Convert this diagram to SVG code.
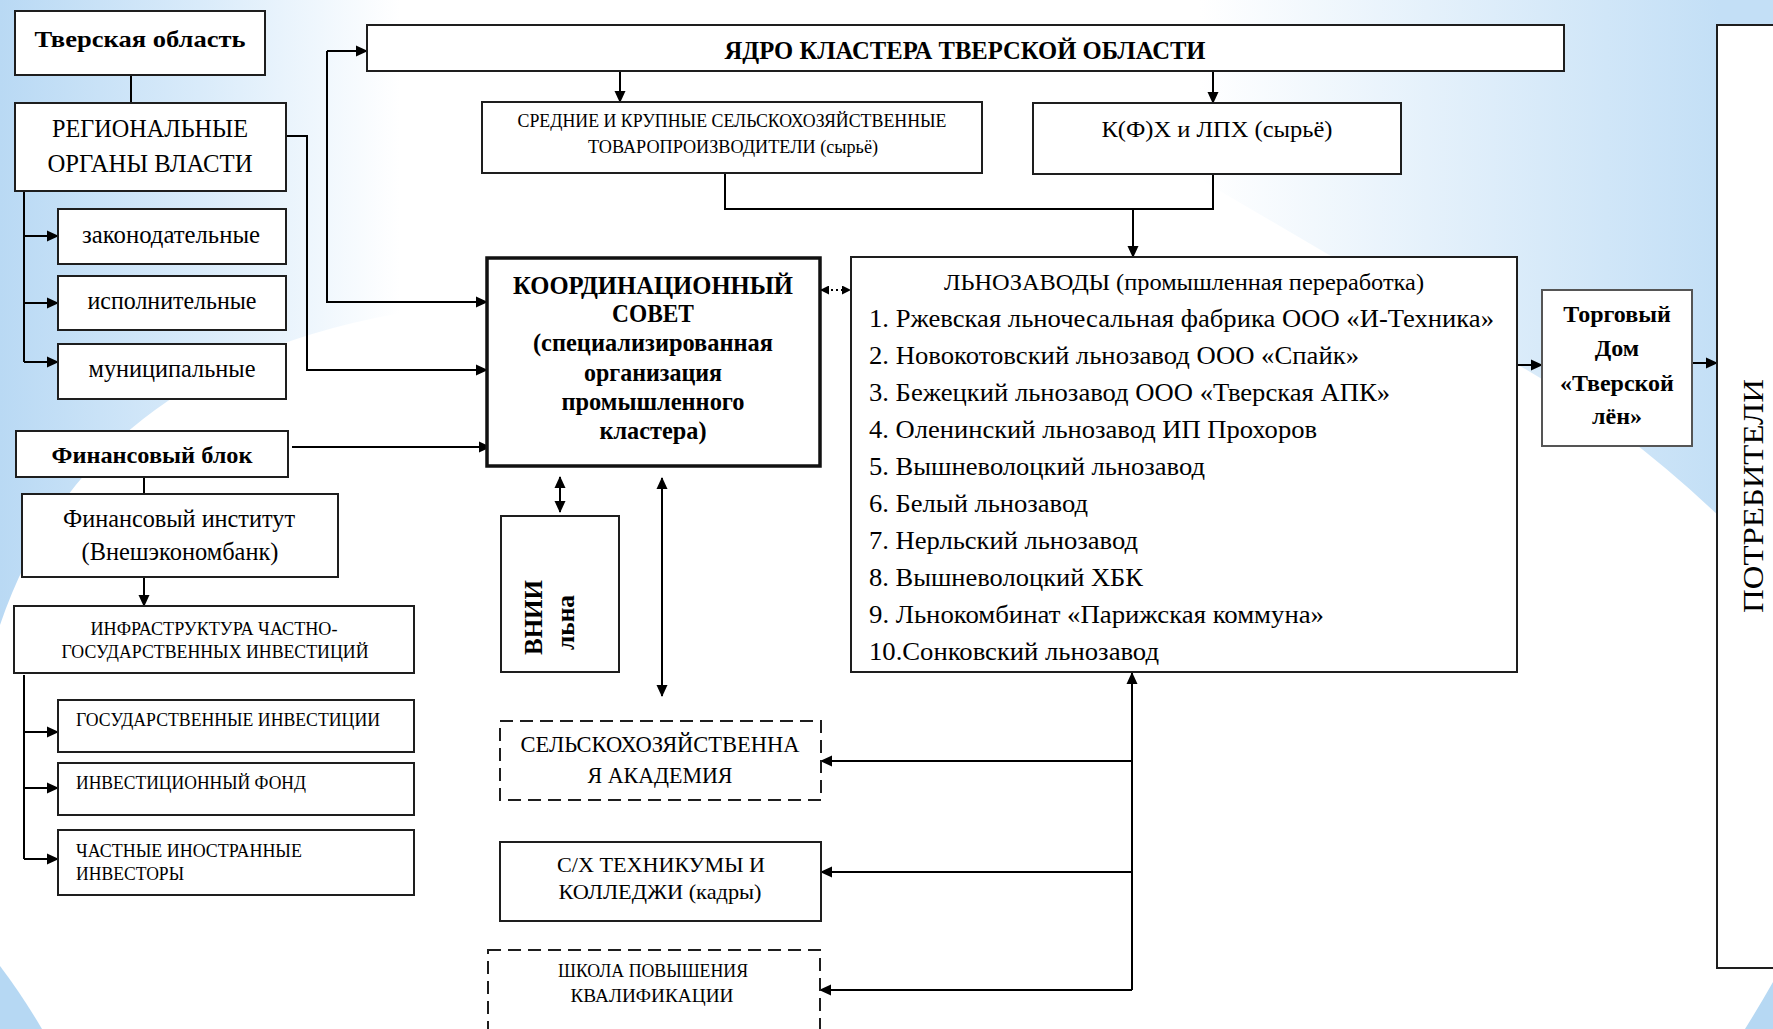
<svg xmlns="http://www.w3.org/2000/svg" width="1773" height="1029" viewBox="0 0 1773 1029">
<style>
.bx{fill:#fff;stroke:#1e1e1e;stroke-width:2}
.bxd{fill:#fff;stroke:#1e1e1e;stroke-width:2;stroke-dasharray:13 7}
.bxc{fill:#fff;stroke:#111;stroke-width:3.5}
.bxg{fill:#fff;stroke:#555;stroke-width:2}
text{font-family:'Liberation Serif','DejaVu Serif',serif;fill:#000}
.b{font-weight:bold}
.m{text-anchor:middle}
.c{fill:none;stroke:#000;stroke-width:2}
.a{marker-end:url(#ah)}
.a2{marker-end:url(#ah);marker-start:url(#ah)}
</style>
<defs>
<linearGradient id="gL" gradientUnits="userSpaceOnUse" x1="0" y1="0" x2="400" y2="0"><stop offset="0" stop-color="#b9d9f4"/><stop offset="0.5" stop-color="#d9ebfa"/><stop offset="1" stop-color="#ffffff"/></linearGradient>
<linearGradient id="gR" gradientUnits="userSpaceOnUse" x1="1200" y1="0" x2="1720" y2="0"><stop offset="0" stop-color="#ffffff"/><stop offset="1" stop-color="#c3dff6"/></linearGradient>
<marker id="ah" viewBox="0 0 12 12" markerWidth="12" markerHeight="12" markerUnits="userSpaceOnUse" refX="11" refY="6" orient="auto-start-reverse"><path d="M0,0.5 L12,6 L0,11.5 z" fill="#000"/></marker>
<marker id="ahs" viewBox="0 0 9 9" markerWidth="9" markerHeight="9" markerUnits="userSpaceOnUse" refX="8" refY="4.5" orient="auto-start-reverse"><path d="M0,0 L9,4.5 L0,9 z" fill="#000"/></marker>
</defs>

<g id="background">
<rect x="0" y="0" width="1773" height="1029" fill="#fff"/>
<path d="M0,0 L420,0 L420,310 Q90,360 0,625 Z" fill="url(#gL)"/>
<path d="M1150,0 H1773 V570 Q1640,430 1500,355 L1150,150 Z" fill="url(#gR)"/>
<path d="M0,966 Q22,995 42,1029 H0 Z" fill="#b6d8f3"/>
<path d="M1773,982 Q1760,1005 1745,1029 H1773 Z" fill="#b6d8f3"/>
</g>

<g id="connectors">
<path class="c" d="M131,75 V103"/>
<path class="c" d="M24,191 V362"/>
<path class="c a" d="M24,236 H58"/>
<path class="c a" d="M24,303 H58"/>
<path class="c a" d="M24,362 H58"/>
<path class="c a" d="M286,136 H307 V370 H487"/>
<path class="c a" d="M327,51 H367"/>
<path class="c a" d="M327,51 V302 H487"/>
<path class="c a" d="M620,71 V102"/>
<path class="c a" d="M1213,71 V103"/>
<path class="c" d="M725,173 V209 H1213 V174"/>
<path class="c a" d="M1133,209 V257"/>
<path fill="none" stroke="#000" stroke-width="2" stroke-dasharray="2 3" marker-start="url(#ahs)" marker-end="url(#ahs)" d="M821,290 H850"/>
<path class="c a" d="M292,447 H490"/>
<path class="c" d="M144,477 V494"/>
<path class="c a" d="M144,577 V606"/>
<path class="c" d="M24,675 V859"/>
<path class="c a" d="M24,732 H58"/>
<path class="c a" d="M24,788 H58"/>
<path class="c a" d="M24,859 H58"/>
<path class="c a2" d="M560,477 V512"/>
<path class="c a2" d="M662,478 V696"/>
<path class="c a" d="M1132,990 V673"/>
<path class="c a" d="M1132,761 H821"/>
<path class="c a" d="M1132,872 H821"/>
<path class="c a" d="M1132,990 H820"/>
<path class="c a" d="M1518,365 H1542"/>
<path class="c a" d="M1693,363 H1717"/>
</g>

<g id="n-tver">
<rect class="bx" x="15" y="11" width="250" height="64"/>
<text class="b m" x="140" y="47" font-size="24" textLength="211" lengthAdjust="spacingAndGlyphs">Тверская область</text>
</g>
<g id="n-reg">
<rect class="bx" x="15" y="103" width="271" height="88"/>
<text class="m" x="150" y="137" font-size="25" textLength="196" lengthAdjust="spacingAndGlyphs">РЕГИОНАЛЬНЫЕ</text>
<text class="m" x="150" y="172" font-size="25" textLength="205" lengthAdjust="spacingAndGlyphs">ОРГАНЫ ВЛАСТИ</text>
</g>
<g id="n-zak">
<rect class="bx" x="58" y="209" width="228" height="55"/>
<text class="m" x="171" y="243" font-size="25" textLength="178" lengthAdjust="spacingAndGlyphs">законодательные</text>
</g>
<g id="n-isp">
<rect class="bx" x="58" y="276" width="228" height="54"/>
<text class="m" x="172" y="309" font-size="25" textLength="169" lengthAdjust="spacingAndGlyphs">исполнительные</text>
</g>
<g id="n-mun">
<rect class="bx" x="58" y="344" width="228" height="55"/>
<text class="m" x="172" y="377" font-size="25" textLength="167" lengthAdjust="spacingAndGlyphs">муниципальные</text>
</g>

<g id="n-core">
<rect class="bx" x="367" y="25" width="1197" height="46"/>
<text class="b m" x="965" y="59" font-size="26" textLength="481" lengthAdjust="spacingAndGlyphs">ЯДРО КЛАСТЕРА ТВЕРСКОЙ ОБЛАСТИ</text>
</g>
<g id="n-sred">
<rect class="bx" x="482" y="102" width="500" height="71"/>
<text class="m" x="732" y="127" font-size="18" textLength="429" lengthAdjust="spacingAndGlyphs">СРЕДНИЕ И КРУПНЫЕ СЕЛЬСКОХОЗЯЙСТВЕННЫЕ</text>
<text class="m" x="733" y="153" font-size="18" textLength="290" lengthAdjust="spacingAndGlyphs">ТОВАРОПРОИЗВОДИТЕЛИ (сырьё)</text>
</g>
<g id="n-kfh">
<rect class="bx" x="1033" y="103" width="368" height="71"/>
<text class="m" x="1217" y="137" font-size="24" textLength="231" lengthAdjust="spacingAndGlyphs">К(Ф)Х и ЛПХ (сырьё)</text>
</g>

<g id="n-coord">
<rect class="bxc" x="487" y="258" width="333" height="208"/>
<text class="b m" x="653" y="294" font-size="25" textLength="280" lengthAdjust="spacingAndGlyphs">КООРДИНАЦИОННЫЙ</text>
<text class="b m" x="653" y="322" font-size="25" textLength="82" lengthAdjust="spacingAndGlyphs">СОВЕТ</text>
<text class="b m" x="653" y="351" font-size="25" textLength="240" lengthAdjust="spacingAndGlyphs">(специализированная</text>
<text class="b m" x="653" y="381" font-size="25" textLength="138" lengthAdjust="spacingAndGlyphs">организация</text>
<text class="b m" x="653" y="410" font-size="25" textLength="183" lengthAdjust="spacingAndGlyphs">промышленного</text>
<text class="b m" x="653" y="439" font-size="25" textLength="107" lengthAdjust="spacingAndGlyphs">кластера)</text>
</g>

<g id="n-lno">
<rect class="bx" x="851" y="257" width="666" height="415"/>
<text class="m" x="1184" y="290" font-size="24" textLength="480" lengthAdjust="spacingAndGlyphs">ЛЬНОЗАВОДЫ (промышленная переработка)</text>
<text x="869" y="327" font-size="26" textLength="625" lengthAdjust="spacingAndGlyphs">1. Ржевская льночесальная фабрика ООО «И-Техника»</text>
<text x="869" y="364" font-size="26" textLength="490" lengthAdjust="spacingAndGlyphs">2. Новокотовский льнозавод ООО «Спайк»</text>
<text x="869" y="401" font-size="26" textLength="521" lengthAdjust="spacingAndGlyphs">3. Бежецкий льнозавод ООО «Тверская АПК»</text>
<text x="869" y="438" font-size="26" textLength="448" lengthAdjust="spacingAndGlyphs">4. Оленинский льнозавод ИП Прохоров</text>
<text x="869" y="475" font-size="26" textLength="336" lengthAdjust="spacingAndGlyphs">5. Вышневолоцкий льнозавод</text>
<text x="869" y="512" font-size="26" textLength="219" lengthAdjust="spacingAndGlyphs">6. Белый льнозавод</text>
<text x="869" y="549" font-size="26" textLength="269" lengthAdjust="spacingAndGlyphs">7. Нерльский льнозавод</text>
<text x="869" y="586" font-size="26" textLength="274" lengthAdjust="spacingAndGlyphs">8. Вышневолоцкий ХБК</text>
<text x="869" y="623" font-size="26" textLength="455" lengthAdjust="spacingAndGlyphs">9. Льнокомбинат «Парижская коммуна»</text>
<text x="869" y="660" font-size="26" textLength="290" lengthAdjust="spacingAndGlyphs">10.Сонковский льнозавод</text>
</g>

<g id="n-td">
<rect class="bxg" x="1542" y="290" width="150" height="156"/>
<text class="b m" x="1617" y="322" font-size="24">Торговый</text>
<text class="b m" x="1617" y="356" font-size="24">Дом</text>
<text class="b m" x="1617" y="391" font-size="24">«Тверской</text>
<text class="b m" x="1617" y="424" font-size="24">лён»</text>
</g>

<g id="n-potr">
<rect class="bx" x="1717" y="25" width="80" height="943"/>
<text class="m" transform="translate(1763,496) rotate(-90)" x="0" y="0" font-size="30" textLength="234" lengthAdjust="spacingAndGlyphs">ПОТРЕБИТЕЛИ</text>
</g>

<g id="n-finblok">
<rect class="bx" x="16" y="431" width="272" height="46"/>
<text class="b m" x="152" y="463" font-size="24" textLength="201" lengthAdjust="spacingAndGlyphs">Финансовый блок</text>
</g>
<g id="n-fininst">
<rect class="bx" x="22" y="494" width="316" height="83"/>
<text class="m" x="179" y="527" font-size="25" textLength="232" lengthAdjust="spacingAndGlyphs">Финансовый институт</text>
<text class="m" x="180" y="560" font-size="25" textLength="197" lengthAdjust="spacingAndGlyphs">(Внешэкономбанк)</text>
</g>
<g id="n-infra">
<rect class="bx" x="14" y="606" width="400" height="67"/>
<text class="m" x="214" y="635" font-size="19" textLength="247" lengthAdjust="spacingAndGlyphs">ИНФРАСТРУКТУРА ЧАСТНО-</text>
<text class="m" x="215" y="658" font-size="19" textLength="307" lengthAdjust="spacingAndGlyphs">ГОСУДАРСТВЕННЫХ ИНВЕСТИЦИЙ</text>
</g>
<g id="n-gos">
<rect class="bx" x="58" y="700" width="356" height="52"/>
<text x="76" y="726" font-size="19" textLength="304" lengthAdjust="spacingAndGlyphs">ГОСУДАРСТВЕННЫЕ ИНВЕСТИЦИИ</text>
</g>
<g id="n-fond">
<rect class="bx" x="58" y="763" width="356" height="52"/>
<text x="76" y="789" font-size="19" textLength="230" lengthAdjust="spacingAndGlyphs">ИНВЕСТИЦИОННЫЙ ФОНД</text>
</g>
<g id="n-inostr">
<rect class="bx" x="58" y="830" width="356" height="65"/>
<text x="76" y="857" font-size="19" textLength="226" lengthAdjust="spacingAndGlyphs">ЧАСТНЫЕ ИНОСТРАННЫЕ</text>
<text x="76" y="880" font-size="19" textLength="108" lengthAdjust="spacingAndGlyphs">ИНВЕСТОРЫ</text>
</g>

<g id="n-vnii">
<rect class="bx" x="501" y="516" width="118" height="156"/>
<text class="b" transform="translate(542,655) rotate(-90)" x="0" y="0" font-size="26" textLength="75" lengthAdjust="spacingAndGlyphs">ВНИИ</text>
<text class="b" transform="translate(574,650) rotate(-90)" x="0" y="0" font-size="26" textLength="55" lengthAdjust="spacingAndGlyphs">льна</text>
</g>
<g id="n-acad">
<rect class="bxd" x="500" y="721" width="321" height="79"/>
<text class="m" x="660" y="752" font-size="23" textLength="279" lengthAdjust="spacingAndGlyphs">СЕЛЬСКОХОЗЯЙСТВЕННА</text>
<text class="m" x="660" y="783" font-size="23" textLength="145" lengthAdjust="spacingAndGlyphs">Я АКАДЕМИЯ</text>
</g>
<g id="n-tech">
<rect class="bx" x="500" y="842" width="321" height="79"/>
<text class="m" x="661" y="872" font-size="21" textLength="208" lengthAdjust="spacingAndGlyphs">С/Х ТЕХНИКУМЫ И</text>
<text class="m" x="660" y="899" font-size="21" textLength="203" lengthAdjust="spacingAndGlyphs">КОЛЛЕДЖИ (кадры)</text>
</g>
<g id="n-school">
<rect class="bxd" x="488" y="950" width="332" height="100"/>
<text class="m" x="653" y="977" font-size="19" textLength="190" lengthAdjust="spacingAndGlyphs">ШКОЛА ПОВЫШЕНИЯ</text>
<text class="m" x="652" y="1002" font-size="19" textLength="163" lengthAdjust="spacingAndGlyphs">КВАЛИФИКАЦИИ</text>
</g>
</svg>
